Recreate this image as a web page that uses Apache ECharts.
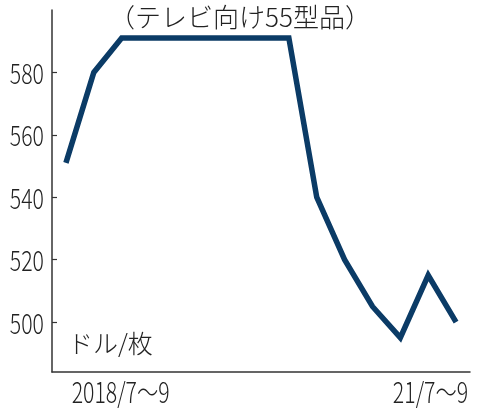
<!DOCTYPE html>
<html>
<head>
<meta charset="utf-8">
<script src="https://cdn.jsdelivr.net/npm/echarts@6/dist/echarts.min.js"></script>
<style>
  html, body { margin: 0; padding: 0; background: #fff; }
  #chart { width: 480px; height: 418px; }
</style>
</head>
<body>
<div id="chart"></div>
<script>
// 四半期ごと（2018/1〜3 から 21/7〜9）
var quarters = ['2018/1〜3', '2018/4〜6', '2018/7〜9', '2018/10〜12',
    '19/1〜3', '19/4〜6', '19/7〜9', '19/10〜12',
    '20/1〜3', '20/4〜6', '20/7〜9', '20/10〜12',
    '21/1〜3', '21/4〜6', '21/7〜9'];
// 価格（ドル/枚）
var prices = [551, 580, 591, 591, 591, 591, 591, 591, 591, 540, 520, 505, 495, 515, 500];
// 目盛り
var yTicks = [500, 520, 540, 560, 580];
var xLabelIdx = [2, 14];
var xLabels = ['2018/7〜9', '21/7〜9'];

var jpFont = '"Noto Sans CJK JP", sans-serif';
var textColor = '#222';
var axisColor = '#333';

var chart = echarts.init(document.getElementById('chart'));

function isLabelIdx(i) { return xLabelIdx.indexOf(i) >= 0; }

var option = {
    animation: false,
    title: {
        text: '（テレビ向け55型品）',
        left: 'center',
        top: -1,
        textStyle: { fontFamily: jpFont, fontSize: 26, fontWeight: 300, color: textColor }
    },
    grid: { left: 52, right: 10, top: 10, bottom: 46 },
    xAxis: {
        type: 'category',
        data: quarters,
        boundaryGap: true,
        axisLine: { lineStyle: { color: axisColor, width: 1.5 } },
        axisTick: {
            inside: true,
            length: 7,
            alignWithLabel: true,
            interval: function (i) { return isLabelIdx(i); },
            lineStyle: { color: axisColor, width: 1.2 }
        },
        // 文字は細長い書体に合わせて下でgraphicで描く
        axisLabel: { show: false, interval: function (i) { return isLabelIdx(i); } }
    },
    yAxis: {
        type: 'value',
        min: 484,
        max: 600,
        axisLine: { show: true, lineStyle: { color: axisColor, width: 1.5 } },
        splitLine: { show: false },
        axisTick: {
            show: true,
            inside: true,
            length: 5,
            customValues: yTicks,
            lineStyle: { color: axisColor, width: 1.2 }
        },
        axisLabel: { show: false }
    },
    series: [{
        type: 'line',
        data: prices,
        showSymbol: false,
        symbol: 'none',
        lineStyle: { color: '#0b3b66', width: 5.5, join: 'miter' }
    }]
};

chart.setOption(option);

// 目盛りラベル（横に縮めた数字）
var condense = 0.76;
var labelFont = '300 28px ' + jpFont;
var graphics = [];

yTicks.forEach(function (v) {
    var py = chart.convertToPixel({ yAxisIndex: 0 }, v);
    graphics.push({
        type: 'text', x: 44, y: py + 1, scaleX: condense,
        style: { text: String(v), font: labelFont, fill: textColor, align: 'right', verticalAlign: 'middle' }
    });
});

xLabelIdx.forEach(function (idx, k) {
    var px = chart.convertToPixel({ xAxisIndex: 0 }, idx);
    var last = k === xLabelIdx.length - 1;
    graphics.push({
        type: 'text', x: last ? px + 12 : px - 1, y: 392, scaleX: condense,
        style: { text: xLabels[k], font: labelFont, fill: textColor,
            align: last ? 'right' : 'center', verticalAlign: 'middle' }
    });
});

// 単位
graphics.push({
    type: 'text', x: 68, y: 343,
    style: { text: 'ドル/枚', font: '300 25px ' + jpFont, fill: textColor, align: 'left', verticalAlign: 'middle' }
});

chart.setOption({ graphic: graphics });
</script>
</body>
</html>
